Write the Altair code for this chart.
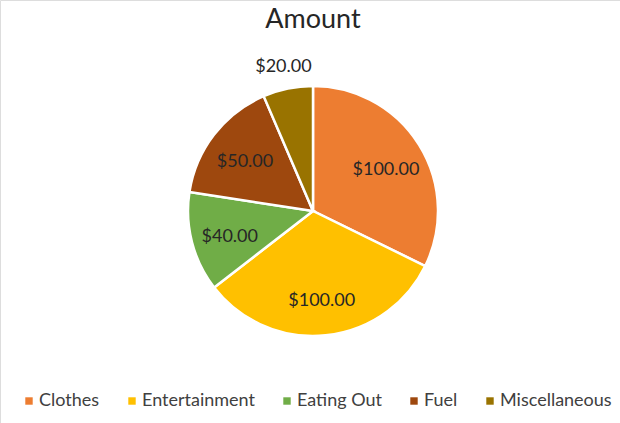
import altair as alt
import pandas as pd

title = "Amount"
categories = ["Clothes", "Entertainment", "Eating Out", "Fuel", "Miscellaneous"]
values = [100, 100, 40, 50, 20]
colors = ["#ED7D31", "#FFC000", "#70AD47", "#9E480E", "#997300"]

df = pd.DataFrame({"category": categories, "value": values, "idx": list(range(len(categories)))})
total = sum(values)

CX, CY, R = 313, 211, 125
FONT = "Lato"

base = alt.Chart(df).transform_stack(
    stack="value", groupby=[], as_=["s0", "s1"], sort=[alt.SortField("idx")]
).transform_calculate(mid="(datum.s0 + datum.s1) / 2")

theta_scale = alt.Scale(domain=[0, total], nice=False, zero=True)

color = alt.Color(
    "category:N",
    scale=alt.Scale(domain=categories, range=colors),
    sort=categories,
    legend=alt.Legend(
        title=None,
        orient="none",
        direction="horizontal",
        legendX=20,
        legendY=392,
        symbolType="square",
        symbolSize=55,
        symbolStrokeWidth=0,
        labelFont=FONT,
        labelFontSize=18,
        labelColor="#404040",
        labelOffset=1,
        columnPadding=23,
    ),
)

pie = base.mark_arc(radius=R, stroke="white", strokeWidth=2.5).encode(
    theta=alt.Theta("s0:Q", stack=None, scale=theta_scale),
    theta2="s1:Q",
    color=color, x=alt.value(CX), y=alt.value(CY)
)

inside = base.transform_filter("datum.value >= 30").mark_text(
    radius=86, font=FONT, fontSize=18, color="#262626", dy=4
).encode(
    theta=alt.Theta("mid:Q", stack=None, scale=theta_scale),
    text=alt.Text("value:Q", format="$.2f"), x=alt.value(CX), y=alt.value(CY)
)

outside = base.transform_filter("datum.value < 30").mark_text(
    radius=147, font=FONT, fontSize=18, color="#262626"
).encode(
    theta=alt.Theta("mid:Q", stack=None, scale=theta_scale),
    text=alt.Text("value:Q", format="$.2f"), x=alt.value(CX), y=alt.value(CY)
)

title_df = pd.DataFrame({"t": [title]})
title_mark = alt.Chart(title_df).mark_text(
    font=FONT, fontSize=27, color="#262626", baseline="middle"
).encode(text="t:N", x=alt.value(313), y=alt.value(20))

chart = alt.layer(pie, inside, outside, title_mark).properties(
    width=620, height=423, autosize=alt.AutoSizeParams(type="none"), padding=0
).configure_view(stroke=None).configure(background="white")

chart.save("out.html", embed_options={"renderer": "svg", "actions": False})
